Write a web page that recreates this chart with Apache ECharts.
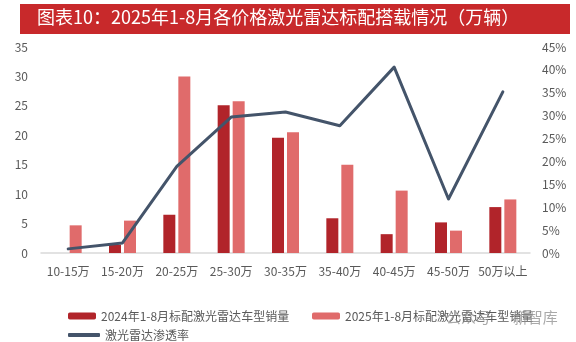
<!DOCTYPE html>
<html>
<head>
<meta charset="utf-8">
<script src="https://cdn.jsdelivr.net/npm/echarts@6/dist/echarts.min.js"></script>
<style>
  html, body { margin: 0; padding: 0; background: #fff; }
  #chart { width: 576px; height: 342px; }
</style>
</head>
<body>
<div id="chart"></div>
<script>
// Price bands (万元) and installed lidar volumes (万辆)
const categories = ['10-15万', '15-20万', '20-25万', '25-30万', '30-35万', '35-40万', '40-45万', '45-50万', '50万以上'];
const sales2024 = [0, 1.4, 6.5, 25.1, 19.6, 5.9, 3.2, 5.2, 7.8];
const sales2025 = [4.7, 5.5, 30.0, 25.8, 20.5, 15.0, 10.6, 3.8, 9.1];
const penetration = [0.9, 2.2, 18.9, 29.7, 30.8, 27.8, 40.6, 11.8, 35.2];

const leftTicks = { min: 0, max: 35, interval: 5 };
const rightTicks = { min: 0, max: 45, interval: 5 };

const title = '图表10：2025年1-8月各价格激光雷达标配搭载情况（万辆）';
const seriesNames = ['2024年1-8月标配激光雷达车型销量', '2025年1-8月标配激光雷达车型销量', '激光雷达渗透率'];

const textColor = '#595959';
const lineColor = '#44546a';
const font = '"Noto Sans CJK SC", "Noto Sans", sans-serif';

const chart = echarts.init(document.getElementById('chart'), null, { renderer: 'canvas' });

chart.setOption({
  animation: false,
  backgroundColor: '#ffffff',
  textStyle: { fontFamily: font },
  graphic: [
    {
      type: 'rect',
      shape: { x: 20, y: 4, width: 550, height: 30 },
      style: { fill: '#c8292b' }
    },
    {
      type: 'text',
      left: 37, top: 8,
      style: { text: title, fill: '#ffffff', font: '18px ' + font }
    },
    {
      type: 'text',
      left: 446, top: 310,
      z: 10,
      style: { text: '公众号 · 新智库', fill: 'rgba(140,140,140,0.75)', font: '15px ' + font }
    }
  ],
  grid: { left: 41, right: 46, top: 47, bottom: 89 },
  legend: [
    {
      data: [seriesNames[0]],
      left: 63, top: 305,
      itemWidth: 28, itemHeight: 7,
      textStyle: { color: textColor, fontSize: 12, fontFamily: font }
    },
    {
      data: [seriesNames[1]],
      left: 307, top: 305,
      itemWidth: 28, itemHeight: 7,
      textStyle: { color: textColor, fontSize: 12, fontFamily: font }
    },
    {
      data: [{ name: seriesNames[2], icon: 'roundRect', itemStyle: { color: lineColor } }],
      left: 63, top: 324,
      itemWidth: 32, itemHeight: 4,
      textStyle: { color: textColor, fontSize: 12, fontFamily: font }
    }
  ],
  xAxis: {
    type: 'category',
    data: categories,
    axisTick: { show: false },
    axisLine: { lineStyle: { color: '#d9d9d9', width: 1.5 } },
    axisLabel: { color: textColor, fontSize: 12, margin: 12, interval: 0, fontFamily: font }
  },
  yAxis: [
    {
      type: 'value',
      min: leftTicks.min, max: leftTicks.max, interval: leftTicks.interval,
      splitLine: { show: false },
      axisLine: { show: false },
      axisTick: { show: false },
      axisLabel: { color: textColor, fontSize: 12, margin: 13, fontFamily: font }
    },
    {
      type: 'value',
      min: rightTicks.min, max: rightTicks.max, interval: rightTicks.interval,
      splitLine: { show: false },
      axisLine: { show: false },
      axisTick: { show: false },
      axisLabel: { color: textColor, fontSize: 12, margin: 12, fontFamily: font, formatter: '{value}%' }
    }
  ],
  series: [
    {
      name: seriesNames[0],
      type: 'bar',
      data: sales2024,
      barWidth: 12,
      barGap: '25%',
      itemStyle: { color: '#b1242a' }
    },
    {
      name: seriesNames[1],
      type: 'bar',
      data: sales2025,
      barWidth: 12,
      itemStyle: { color: '#e06b6b' }
    },
    {
      name: seriesNames[2],
      type: 'line',
      yAxisIndex: 1,
      data: penetration,
      symbol: 'none',
      lineStyle: { color: lineColor, width: 3, cap: 'round', join: 'round' },
      itemStyle: { color: lineColor },
      z: 5
    }
  ]
});
</script>
</body>
</html>
